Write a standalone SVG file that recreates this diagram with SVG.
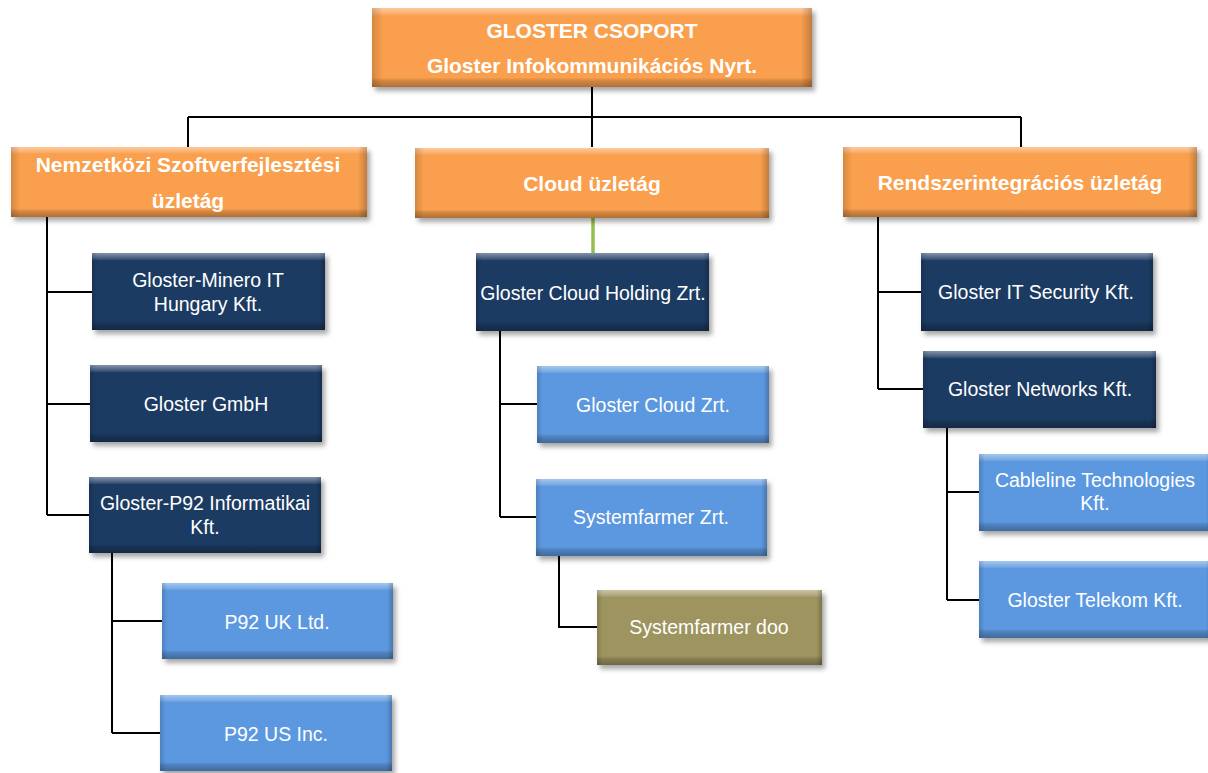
<svg xmlns="http://www.w3.org/2000/svg" width="1208" height="773" viewBox="0 0 1208 773">
<defs>
<filter id="sh" x="-10%" y="-20%" width="130%" height="150%">
<feDropShadow dx="3" dy="4" stdDeviation="2.5" flood-color="#000" flood-opacity="0.35"/>
</filter>
<linearGradient id="bv" x1="0" y1="0" x2="0" y2="1">
<stop offset="0" stop-color="#fff" stop-opacity="0.45"/>
<stop offset="0.07" stop-color="#fff" stop-opacity="0.18"/>
<stop offset="0.1" stop-color="#fff" stop-opacity="0"/>
<stop offset="0.88" stop-color="#000" stop-opacity="0"/>
<stop offset="0.92" stop-color="#000" stop-opacity="0.15"/>
<stop offset="1" stop-color="#000" stop-opacity="0.3"/>
</linearGradient>
<linearGradient id="bh" x1="0" y1="0" x2="1" y2="0">
<stop offset="0" stop-color="#000" stop-opacity="0.15"/>
<stop offset="0.025" stop-color="#000" stop-opacity="0"/>
<stop offset="0.975" stop-color="#000" stop-opacity="0"/>
<stop offset="1" stop-color="#000" stop-opacity="0.22"/>
</linearGradient>
<style>
.or{fill:#F99F4D}
.nv{fill:#1F3A64}
.lb{fill:#5B98DF}
.ol{fill:#9E9461}
.bx{filter:url(#sh)}
.v{fill:url(#bv)}
.h{fill:url(#bh)}
.hd{font-family:"Liberation Sans",Arial,sans-serif;font-weight:bold;font-size:21px;fill:#fff;text-anchor:middle;dominant-baseline:central}
.tx{font-family:"Liberation Sans",Arial,sans-serif;font-size:19.5px;fill:#fff;text-anchor:middle;dominant-baseline:central}
.cn{fill:none;stroke:#000;stroke-width:2}
.gr{fill:none;stroke:#92C04C;stroke-width:3.5}
</style>
</defs>
<rect width="1208" height="773" fill="#fff"/>

<g id="connectors">
<path class="cn" d="M592 87V147M188 117H1021M188 117V147M1021 117V147"/>
<path class="cn" d="M47 217V515M47 292H92M47 404H90M47 515H89"/>
<path class="cn" d="M112 553V733M112 621H162M112 733H160"/>
<path class="gr" d="M593 218V253"/>
<path class="cn" d="M500 331V517M500 404H537M500 517H536"/>
<path class="cn" d="M559 556V627H597"/>
<path class="cn" d="M878 217V389M878 292H921M878 389H923"/>
<path class="cn" d="M947 428V600M947 492H979M947 600H979"/>
</g>

<g id="n-gloster-csoport">
<rect class="or bx" x="372" y="8" width="440" height="79"/>
<rect class="v" x="372" y="8" width="440" height="79"/><rect class="h" x="372" y="8" width="440" height="79"/>
<text class="hd" x="592" y="30">GLOSTER CSOPORT</text>
<text class="hd" x="592" y="65">Gloster Infokommunikációs Nyrt.</text>
</g>

<g id="n-nemzetkozi">
<rect class="or bx" x="11" y="147" width="356" height="70"/>
<rect class="v" x="11" y="147" width="356" height="70"/><rect class="h" x="11" y="147" width="356" height="70"/>
<text class="hd" x="188" y="164">Nemzetközi Szoftverfejlesztési</text>
<text class="hd" x="188" y="200">üzletág</text>
</g>

<g id="n-cloud-uzletag">
<rect class="or bx" x="415" y="148" width="354" height="70"/>
<rect class="v" x="415" y="148" width="354" height="70"/><rect class="h" x="415" y="148" width="354" height="70"/>
<text class="hd" x="592" y="183">Cloud üzletág</text>
</g>

<g id="n-rendszerintegracios">
<rect class="or bx" x="843" y="147" width="354" height="70"/>
<rect class="v" x="843" y="147" width="354" height="70"/><rect class="h" x="843" y="147" width="354" height="70"/>
<text class="hd" x="1020" y="182">Rendszerintegrációs üzletág</text>
</g>

<g id="n-minero">
<rect class="nv bx" x="92" y="253" width="233" height="77"/>
<rect class="v" x="92" y="253" width="233" height="77"/><rect class="h" x="92" y="253" width="233" height="77"/>
<text class="tx" x="208" y="280">Gloster-Minero IT</text>
<text class="tx" x="208" y="304">Hungary Kft.</text>
</g>

<g id="n-gmbh">
<rect class="nv bx" x="90" y="365" width="232" height="77"/>
<rect class="v" x="90" y="365" width="232" height="77"/><rect class="h" x="90" y="365" width="232" height="77"/>
<text class="tx" x="206" y="404">Gloster GmbH</text>
</g>

<g id="n-p92">
<rect class="nv bx" x="89" y="477" width="232" height="76"/>
<rect class="v" x="89" y="477" width="232" height="76"/><rect class="h" x="89" y="477" width="232" height="76"/>
<text class="tx" x="205" y="503">Gloster-P92 Informatikai</text>
<text class="tx" x="205" y="527">Kft.</text>
</g>

<g id="n-p92-uk">
<rect class="lb bx" x="162" y="583" width="231" height="76"/>
<rect class="v" x="162" y="583" width="231" height="76"/><rect class="h" x="162" y="583" width="231" height="76"/>
<text class="tx" x="277" y="622">P92 UK Ltd.</text>
</g>

<g id="n-p92-us">
<rect class="lb bx" x="160" y="695" width="232" height="76"/>
<rect class="v" x="160" y="695" width="232" height="76"/><rect class="h" x="160" y="695" width="232" height="76"/>
<text class="tx" x="276" y="734">P92 US Inc.</text>
</g>

<g id="n-cloud-holding">
<rect class="nv bx" x="476" y="253" width="233" height="78"/>
<rect class="v" x="476" y="253" width="233" height="78"/><rect class="h" x="476" y="253" width="233" height="78"/>
<text class="tx" x="593" y="293">Gloster Cloud Holding Zrt.</text>
</g>

<g id="n-gloster-cloud">
<rect class="lb bx" x="537" y="366" width="232" height="77"/>
<rect class="v" x="537" y="366" width="232" height="77"/><rect class="h" x="537" y="366" width="232" height="77"/>
<text class="tx" x="653" y="405">Gloster Cloud Zrt.</text>
</g>

<g id="n-systemfarmer-zrt">
<rect class="lb bx" x="536" y="479" width="231" height="77"/>
<rect class="v" x="536" y="479" width="231" height="77"/><rect class="h" x="536" y="479" width="231" height="77"/>
<text class="tx" x="651" y="517">Systemfarmer Zrt.</text>
</g>

<g id="n-systemfarmer-doo">
<rect class="ol bx" x="597" y="590" width="225" height="75"/>
<rect class="v" x="597" y="590" width="225" height="75"/><rect class="h" x="597" y="590" width="225" height="75"/>
<text class="tx" x="709" y="627">Systemfarmer doo</text>
</g>

<g id="n-it-security">
<rect class="nv bx" x="921" y="253" width="232" height="78"/>
<rect class="v" x="921" y="253" width="232" height="78"/><rect class="h" x="921" y="253" width="232" height="78"/>
<text class="tx" x="1036" y="292">Gloster IT Security Kft.</text>
</g>

<g id="n-networks">
<rect class="nv bx" x="923" y="351" width="233" height="77"/>
<rect class="v" x="923" y="351" width="233" height="77"/><rect class="h" x="923" y="351" width="233" height="77"/>
<text class="tx" x="1040" y="389">Gloster Networks Kft.</text>
</g>

<g id="n-cableline">
<rect class="lb bx" x="979" y="454" width="233" height="77"/>
<rect class="v" x="979" y="454" width="233" height="77"/><rect class="h" x="979" y="454" width="233" height="77"/>
<text class="tx" x="1095" y="480">Cableline Technologies</text>
<text class="tx" x="1095" y="503">Kft.</text>
</g>

<g id="n-telekom">
<rect class="lb bx" x="979" y="561" width="233" height="77"/>
<rect class="v" x="979" y="561" width="233" height="77"/><rect class="h" x="979" y="561" width="233" height="77"/>
<text class="tx" x="1095" y="600">Gloster Telekom Kft.</text>
</g>
</svg>
